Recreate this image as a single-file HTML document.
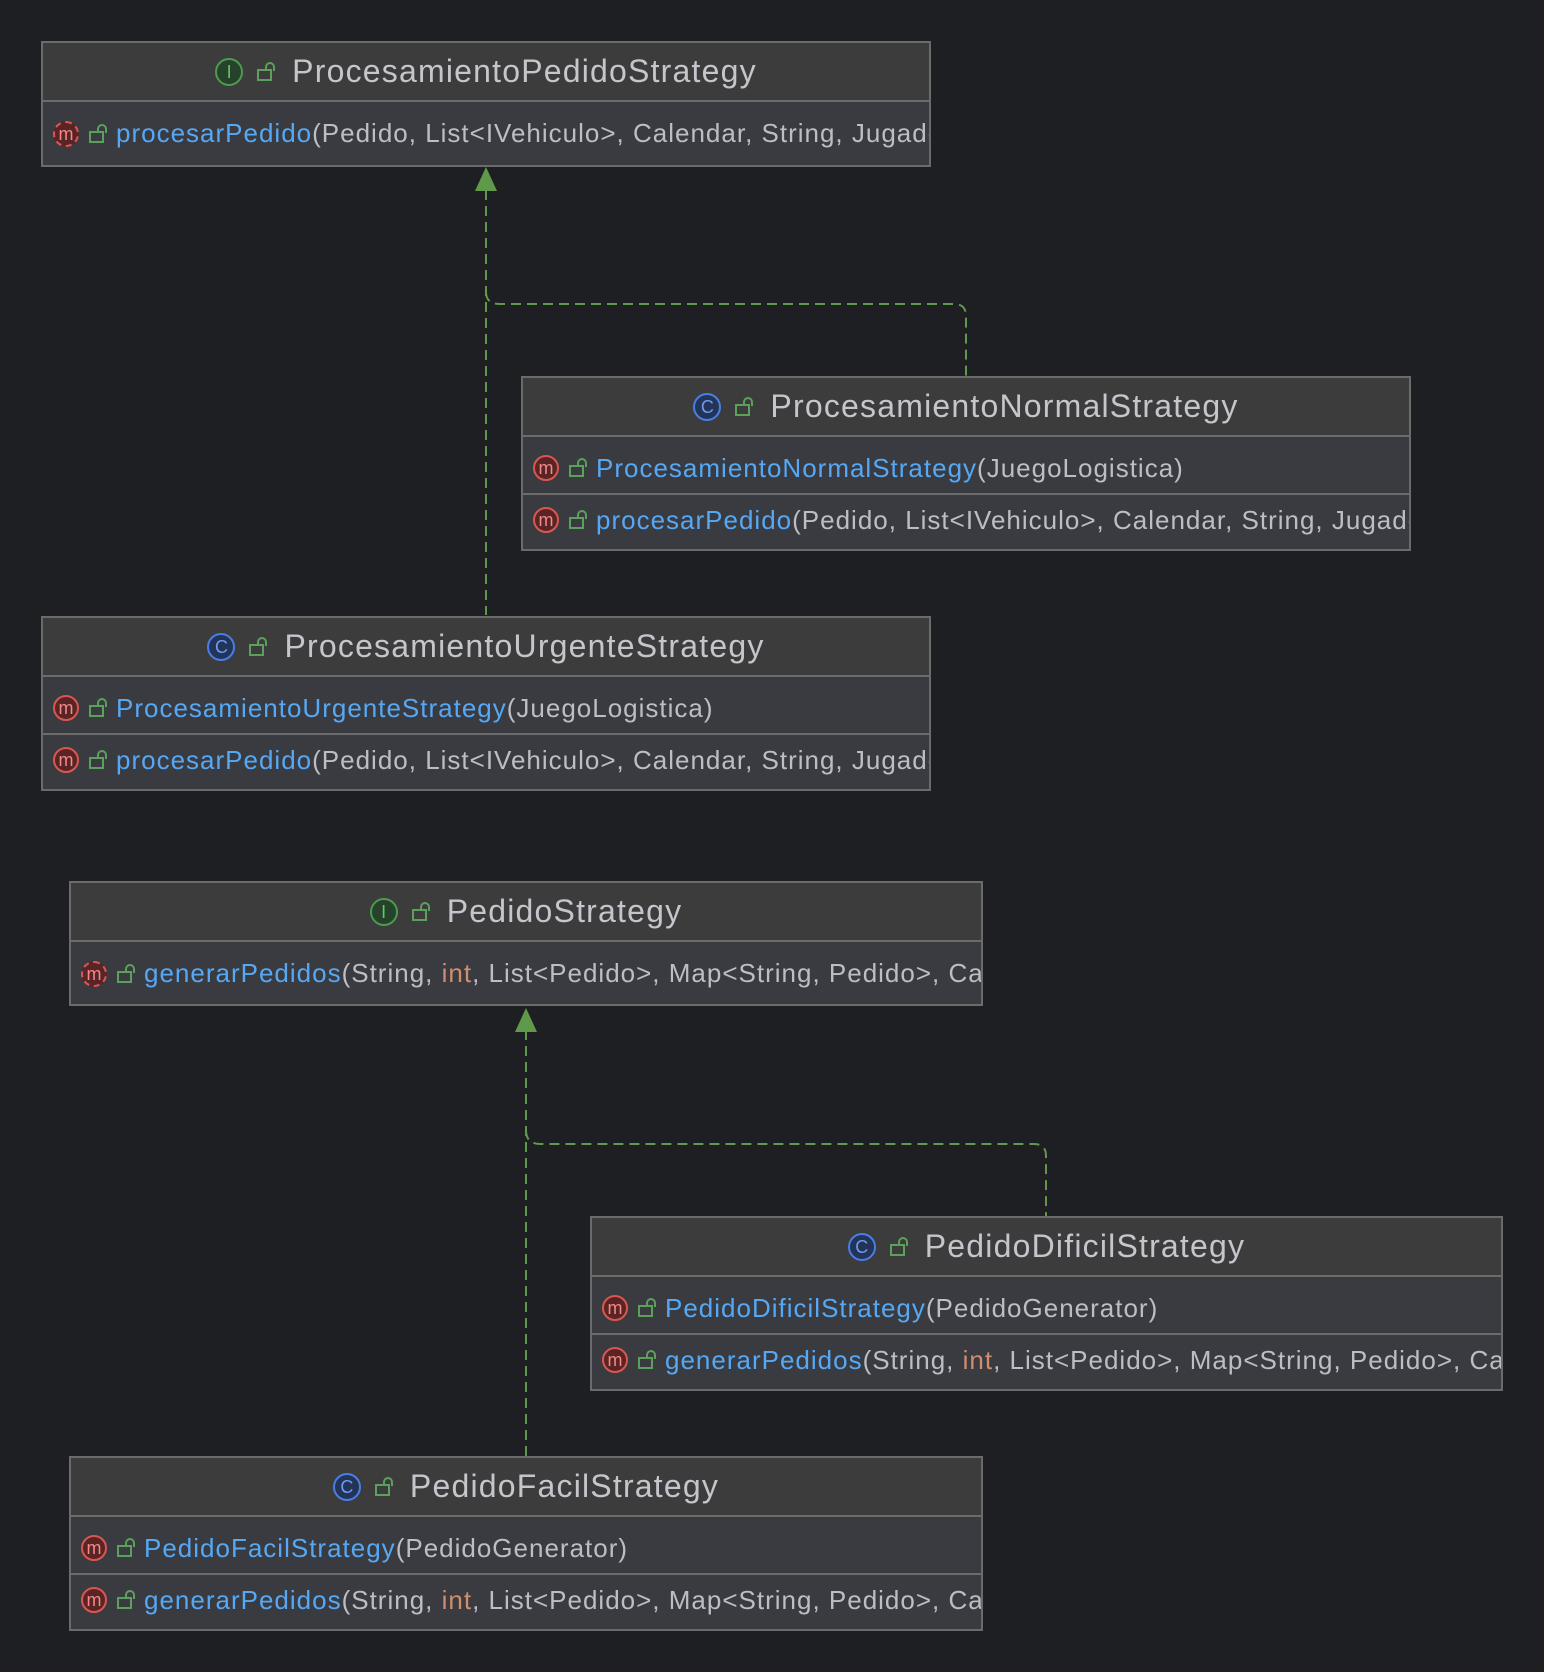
<!DOCTYPE html>
<html><head><meta charset="utf-8"><style>
body{margin:0;width:1544px;height:1672px;background:#1e1f22;position:relative;overflow:hidden;font-family:"Liberation Sans","DejaVu Sans",sans-serif;}
.box{position:absolute;border:2px solid #6b6b6b;background:#393b40;overflow:hidden;box-sizing:border-box;}
.hd{background:#3c3c3c;border-bottom:2px solid #6b6b6b;display:flex;align-items:center;justify-content:center;color:#c4c6cc;font-size:32px;letter-spacing:1.2px;box-sizing:border-box;white-space:nowrap;}
.row{display:flex;align-items:center;white-space:nowrap;font-size:26px;letter-spacing:1px;color:#bcbec4;padding-left:10px;box-sizing:border-box;border-bottom:2px solid #6b6b6b;}
.row:last-child{border-bottom:none;}
.r1{padding-top:6px}.r2{padding-bottom:6px}
.ic{width:26px;height:26px;border-radius:50%;box-sizing:border-box;display:inline-flex;align-items:center;justify-content:center;font-size:18px;letter-spacing:0;line-height:1;margin-right:10px;flex:none;}
.hd .ic{width:28px;height:28px;}
.ii{border:2px solid #4f9a4f;background:#24432a;color:#6fbf6f;}
.ic-c{border:2px solid #4a7ee6;background:#233459;color:#6e9bf2;}
.im{border:2px solid #d9574f;background:#5a2426;color:#ef8a84;}
.imd{border:2px dashed #d9574f;background:#5a2426;color:#ef8a84;}
.lk{width:11px;height:8px;border:2px solid #5ba15b;position:relative;margin-right:12px;margin-top:6px;flex:none;}
.lk:before{content:"";position:absolute;left:6px;top:-9px;width:6px;height:7px;border:2px solid #5ba15b;border-bottom:none;border-radius:5px 5px 0 0;}
.hd .lk{margin-right:20px;margin-left:4px;}
.b{color:#56a8f5}.o{color:#cf8e6d}
</style></head><body>
<svg width="1544" height="1672" style="position:absolute;left:0;top:0">
<g stroke="#5f9a4a" stroke-width="2" fill="none" stroke-dasharray="10,6">
<path d="M486 190 V615"/>
<path d="M486 292 Q486 304 500 304 H954 Q966 304 966 316 V376"/>
<path d="M526 1030 V1457"/>
<path d="M526 1130 Q526 1144 540 1144 H1034 Q1046 1144 1046 1156 V1217"/>
</g>
<polygon points="486,167 475,191 497,191" fill="#5f9a4a"/>
<polygon points="526,1008 515,1032 537,1032" fill="#5f9a4a"/>
</svg>

<div class="box" style="left:41px;top:41px;width:890px;height:126px">
<div class="hd" style="height:59px"><span class="ic ii">I</span><span class="lk"></span>ProcesamientoPedidoStrategy</div>
<div class="row" style="height:63px"><span class="ic imd">m</span><span class="lk"></span><span class="b">procesarPedido</span>(Pedido, List&lt;IVehiculo&gt;, Calendar, String, JugadorLogistica)</div>
</div>

<div class="box" style="left:521px;top:376px;width:890px;height:175px">
<div class="hd" style="height:59px"><span class="ic ic-c">C</span><span class="lk"></span>ProcesamientoNormalStrategy</div>
<div class="row r1" style="height:58px"><span class="ic im">m</span><span class="lk"></span><span class="b">ProcesamientoNormalStrategy</span>(JuegoLogistica)</div>
<div class="row r2" style="height:56px"><span class="ic im">m</span><span class="lk"></span><span class="b">procesarPedido</span>(Pedido, List&lt;IVehiculo&gt;, Calendar, String, JugadorLogistica)</div>
</div>

<div class="box" style="left:41px;top:616px;width:890px;height:175px">
<div class="hd" style="height:59px"><span class="ic ic-c">C</span><span class="lk"></span>ProcesamientoUrgenteStrategy</div>
<div class="row r1" style="height:58px"><span class="ic im">m</span><span class="lk"></span><span class="b">ProcesamientoUrgenteStrategy</span>(JuegoLogistica)</div>
<div class="row r2" style="height:56px"><span class="ic im">m</span><span class="lk"></span><span class="b">procesarPedido</span>(Pedido, List&lt;IVehiculo&gt;, Calendar, String, JugadorLogistica)</div>
</div>

<div class="box" style="left:69px;top:881px;width:914px;height:125px">
<div class="hd" style="height:59px"><span class="ic ii">I</span><span class="lk"></span>PedidoStrategy</div>
<div class="row" style="height:63px"><span class="ic imd">m</span><span class="lk"></span><span class="b">generarPedidos</span>(String,&nbsp;<span class="o">int</span>, List&lt;Pedido&gt;, Map&lt;String, Pedido&gt;, Calendar)</div>
</div>

<div class="box" style="left:590px;top:1216px;width:913px;height:175px">
<div class="hd" style="height:59px"><span class="ic ic-c">C</span><span class="lk"></span>PedidoDificilStrategy</div>
<div class="row r1" style="height:58px"><span class="ic im">m</span><span class="lk"></span><span class="b">PedidoDificilStrategy</span>(PedidoGenerator)</div>
<div class="row r2" style="height:56px"><span class="ic im">m</span><span class="lk"></span><span class="b">generarPedidos</span>(String,&nbsp;<span class="o">int</span>, List&lt;Pedido&gt;, Map&lt;String, Pedido&gt;, Calendar)</div>
</div>

<div class="box" style="left:69px;top:1456px;width:914px;height:175px">
<div class="hd" style="height:59px"><span class="ic ic-c">C</span><span class="lk"></span>PedidoFacilStrategy</div>
<div class="row r1" style="height:58px"><span class="ic im">m</span><span class="lk"></span><span class="b">PedidoFacilStrategy</span>(PedidoGenerator)</div>
<div class="row r2" style="height:56px"><span class="ic im">m</span><span class="lk"></span><span class="b">generarPedidos</span>(String,&nbsp;<span class="o">int</span>, List&lt;Pedido&gt;, Map&lt;String, Pedido&gt;, Calendar)</div>
</div>
</body></html>
